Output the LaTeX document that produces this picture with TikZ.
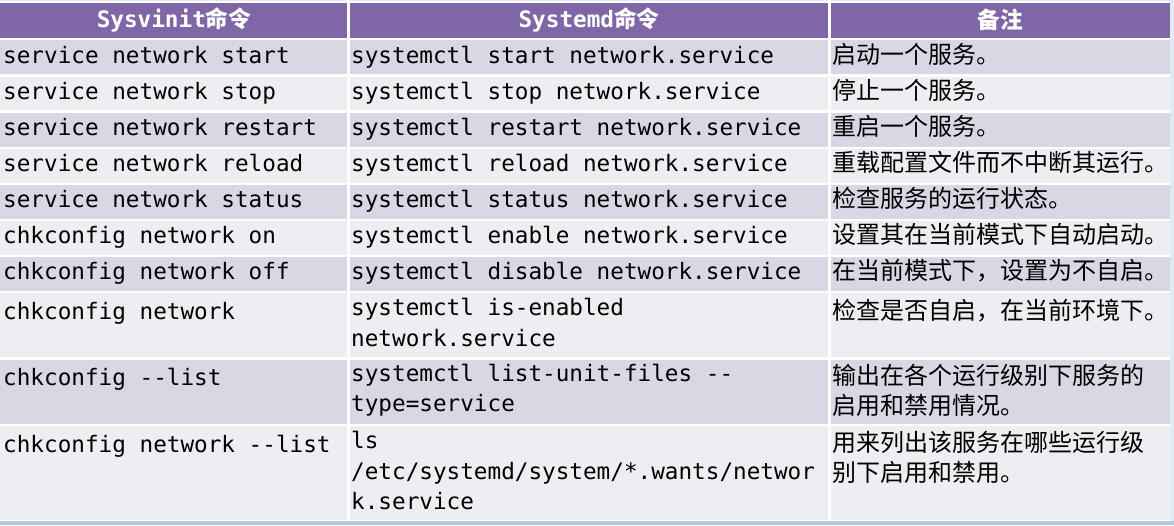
\documentclass[tikz,border=0pt]{standalone}
\usepackage{fontspec}
\setmonofont{DejaVu Sans Mono}
\newfontfamily\cjk{Noto Sans CJK SC}
\usetikzlibrary{positioning}

\definecolor{hdrpurple}{HTML}{7F66A6}
\definecolor{rowdark}{HTML}{DAD7E4}
\definecolor{rowlight}{HTML}{EEEDF2}
\definecolor{slidebg}{HTML}{E2EAF1}
\definecolor{slideblue}{HTML}{AFC9DE}

\newcommand\cellfont{\ttfamily\fontsize{22.66}{30.5}\selectfont}
\newcommand\zhfont{\cjk\fontsize{24}{30.5}\selectfont}
\newcommand\hdrfont{\fontsize{22.66}{31}\selectfont\bfseries}

\tikzset{
  cell/.style={anchor=north west, inner sep=0pt, align=left, font=\cellfont,
    execute at begin node=\strut},
  zh/.style={cell, font=\zhfont},
  hdr/.style={inner sep=0pt, text=white, font=\hdrfont}
}

\begin{document}
\begin{tikzpicture}[x=1pt,y=-1pt]
\useasboundingbox (0,0) rectangle (1174,525);
\fill[slidebg] (0,0) rectangle (1174,525);
\fill[slideblue] (0,521) rectangle (1174,525);
\fill[white] (0,1) rectangle (1170,521);

% row bands
\fill[hdrpurple] (0,2.5) rectangle (1170,37.5);
\fill[rowdark] (0,40) rectangle (1170,74);
\fill[rowlight] (0,76.5) rectangle (1170,110);
\fill[rowdark] (0,113) rectangle (1170,146.5);
\fill[rowlight] (0,149) rectangle (1170,182.5);
\fill[rowdark] (0,185) rectangle (1170,218.5);
\fill[rowlight] (0,221) rectangle (1170,254.5);
\fill[rowdark] (0,257) rectangle (1170,290.5);
\fill[rowlight] (0,293) rectangle (1170,357);
\fill[rowdark] (0,359.5) rectangle (1170,423.5);
\fill[rowlight] (0,426) rectangle (1170,519.5);
\draw[white, line width=2.5pt] (348.5,0) -- (348.5,521);
\draw[white, line width=2.5pt] (829.5,0) -- (829.5,521);

% header
\node[hdr] (h1) at (174,20) {{\ttfamily Sysvinit}{\cjk 命令}};
\node[hdr] (h2) at (589,20) {{\ttfamily Systemd}{\cjk 命令}};
\node[hdr] (h3) at (1000,20) {\cjk 备注};

% Sysvinit
\node[cell] (s1) at (3,41.5) {service network start};
\node[cell] (s2) at (3,77.5) {service network stop};
\node[cell] (s3) at (3,113.5) {service network restart};
\node[cell] (s4) at (3,149.5) {service network reload};
\node[cell] (s5) at (3,185.5) {service network status};
\node[cell] (s6) at (3,221.5) {chkconfig network on};
\node[cell] (s7) at (3,257.5) {chkconfig network off};
\node[cell] (s8) at (3,298) {chkconfig network};
\node[cell] (s9) at (3,363.5) {chkconfig --list};
\node[cell] (s10) at (3,431) {chkconfig network --list};

% Systemd
\node[cell] (d1) at (351,41.5) {systemctl start network.service};
\node[cell] (d2) at (351,77.5) {systemctl stop network.service};
\node[cell] (d3) at (351,113.5) {systemctl restart network.service};
\node[cell] (d4) at (351,149.5) {systemctl reload network.service};
\node[cell] (d5) at (351,185.5) {systemctl status network.service};
\node[cell] (d6) at (351,221.5) {systemctl enable network.service};
\node[cell] (d7) at (351,257.5) {systemctl disable network.service};
\node[cell] (d8) at (351,298) {systemctl is-enabled\\network.service};
\node[cell] (d9) at (351,363.5) {systemctl list-unit-files --\\type=service};
\node[cell] (d10) at (351,431) {ls\\/etc/systemd/system/*.wants/networ\\k.service};

% notes
\node[zh] (n1) at (832,41.5) {启动一个服务。};
\node[zh] (n2) at (832,77.5) {停止一个服务。};
\node[zh] (n3) at (832,113.5) {重启一个服务。};
\node[zh] (n4) at (832,149.5) {重载配置文件而不中断其运行。};
\node[zh] (n5) at (832,185.5) {检查服务的运行状态。};
\node[zh] (n6) at (832,221.5) {设置其在当前模式下自动启动。};
\node[zh] (n7) at (832,257.5) {在当前模式下，设置为不自启。};
\node[zh] (n8) at (832,298) {检查是否自启，在当前环境下。};
\node[zh] (n9) at (832,363.5) {输出在各个运行级别下服务的\\启用和禁用情况。};
\node[zh] (n10) at (832,431) {用来列出该服务在哪些运行级\\别下启用和禁用。};
\end{tikzpicture}
\end{document}
